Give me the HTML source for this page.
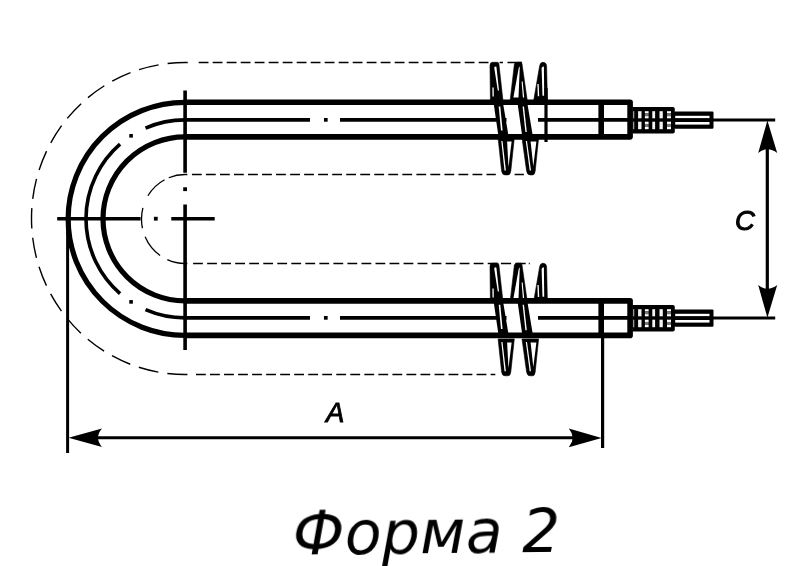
<!DOCTYPE html>
<html lang="ru"><head><meta charset="utf-8"><title>Форма 2</title>
<style>html,body{margin:0;padding:0;background:#fff}body{width:801px;height:566px;overflow:hidden}svg{display:block}</style></head>
<body>
<svg width="801" height="566" viewBox="0 0 801 566">
<rect width="801" height="566" fill="#fff"/>
<path d="M198.7 62.5H490" stroke="#000" stroke-width="1.5" fill="none" stroke-dasharray="9.8 4.2"/>
<path d="M499.6 62.5H503M507.5 62.5H522" stroke="#000" stroke-width="1.5" fill="none"/>
<path d="M196 374.5H495.3" stroke="#000" stroke-width="1.5" fill="none" stroke-dasharray="9.8 4.23"/>
<path d="M191.9 174.5H495.8" stroke="#000" stroke-width="1.5" fill="none" stroke-dasharray="9.8 4.23"/>
<path d="M514.6 174.5H523.9" stroke="#000" stroke-width="1.5" fill="none"/>
<path d="M193.1 263.5H498.3" stroke="#000" stroke-width="1.5" fill="none" stroke-dasharray="9.8 4.23"/>
<path d="M500.9 263.5H511.1M515.5 263.5H525.7M528.8 263.5H529.8" stroke="#000" stroke-width="1.5" fill="none"/>
<path d="M187.72 62.50L185.0 62.50A153.5 156.0 0 0 0 167.62 63.50M158.61 64.82A153.5 156.0 0 0 0 139.10 69.64M130.49 72.67A153.5 156.0 0 0 0 112.23 81.15M104.34 85.77A153.5 156.0 0 0 0 87.98 97.61M81.10 103.67A153.5 156.0 0 0 0 67.24 118.43M61.61 125.71A153.5 156.0 0 0 0 50.75 142.87M46.57 151.09A153.5 156.0 0 0 0 39.10 170.03M36.52 178.91A153.5 156.0 0 0 0 32.71 198.95M31.84 208.16A153.5 156.0 0 0 0 31.82 228.57M32.68 237.78A153.5 156.0 0 0 0 36.46 257.82M39.01 266.71A153.5 156.0 0 0 0 46.45 285.66M50.62 293.89A153.5 156.0 0 0 0 61.45 311.07M67.07 318.36A153.5 156.0 0 0 0 80.90 333.15M87.78 339.22A153.5 156.0 0 0 0 104.11 351.08M111.99 355.73A153.5 156.0 0 0 0 130.24 364.24M138.84 367.28A153.5 156.0 0 0 0 158.35 372.13M167.36 373.47A153.5 156.0 0 0 0 185.00 374.50L187.45 374.50" stroke="#000" stroke-width="1.4" fill="none"/>
<path d="M187.33 174.50L185.0 174.50A43.5 44.5 0 0 0 168.70 177.74M164.58 179.71A43.5 44.5 0 0 0 147.91 195.75M142.89 207.86A43.5 44.5 0 0 0 142.45 228.25M145.11 236.74A43.5 44.5 0 0 0 160.05 255.45M167.31 259.65A43.5 44.5 0 0 0 185.00 263.50L187.33 263.50" stroke="#000" stroke-width="1.3" fill="none"/>
<g transform="translate(0 0)">
<g fill="#000" stroke="#000" stroke-width="0.6" stroke-linejoin="round">
<!-- strand 2 above tube + peak2 + strand3 above tube -->
<path d="M510.2 100 L514.4 64 Q515 62.3 517 62.3 L520.5 62.3 Q521.8 62.3 522 64 L527.2 100 Z"/>
<!-- peak 3 -->
<path d="M533.8 100 L539.6 66 Q540.2 62.3 543 62.3 Q546.4 62.3 546.6 66 L547.4 100 Z"/>
<!-- peak 1 -->
<path d="M490.4 100 L490 65.5 Q490 62.3 492.5 62.3 L497.5 62.3 Q498.7 62.3 498.9 64 L502.9 100 Z"/>
<!-- valley 1 -->
<path d="M498.1 138 L501.6 171 Q502.2 174.9 505 174.9 L508 174.9 Q510.3 174.9 510.8 171 L514.3 138 Z"/>
<!-- valley 2 -->
<path d="M522 138 L526.6 171 Q527.3 174.9 530 174.9 L532.6 174.9 Q534.7 174.9 535.2 171 L538.6 138 Z"/>
</g>
<g fill="#fff">
<path d="M513.4 97.6 L518.7 68 L519.8 66.3 L518.5 97.6 Z"/>
<path d="M521.6 81.5 L522.7 81.5 L524.2 97.6 L522.9 97.6 Z"/>
<path d="M541.6 68 Q542.6 66 543.9 66.5 L544.2 95.8 L542.5 95.8 Z"/>
<path d="M537.4 84 L538.7 84 L539.2 96.2 L537.8 96.2 Z"/>
<path d="M494.2 67.5 Q495.3 65.8 496.4 66.8 L499 90.6 L497.8 90.6 Z"/>
<path d="M492.4 87.6 L493.7 87.6 L493.8 96.6 L492.5 96.6 Z"/>
<path d="M501.3 141 L502.5 141 L505.9 170.4 L504.5 170.4 Z"/>
<path d="M507.1 141.6 L511.6 141.6 L508.5 167 Z"/>
<path d="M525.8 141 L527.0 141 L531.0 170.4 L529.7 170.4 Z"/>
<path d="M530.6 141.6 L536.4 141.6 L533.3 166.2 Z"/>
</g>
</g>
<g transform="translate(0 200.9)">
<g fill="#000" stroke="#000" stroke-width="0.6" stroke-linejoin="round">
<!-- strand 2 above tube + peak2 + strand3 above tube -->
<path d="M510.2 100 L514.4 64 Q515 62.3 517 62.3 L520.5 62.3 Q521.8 62.3 522 64 L527.2 100 Z"/>
<!-- peak 3 -->
<path d="M533.8 100 L539.6 66 Q540.2 62.3 543 62.3 Q546.4 62.3 546.6 66 L547.4 100 Z"/>
<!-- peak 1 -->
<path d="M490.4 100 L490 65.5 Q490 62.3 492.5 62.3 L497.5 62.3 Q498.7 62.3 498.9 64 L502.9 100 Z"/>
<!-- valley 1 -->
<path d="M498.1 138 L501.6 171 Q502.2 174.9 505 174.9 L508 174.9 Q510.3 174.9 510.8 171 L514.3 138 Z"/>
<!-- valley 2 -->
<path d="M522 138 L526.6 171 Q527.3 174.9 530 174.9 L532.6 174.9 Q534.7 174.9 535.2 171 L538.6 138 Z"/>
</g>
<g fill="#fff">
<path d="M513.4 97.6 L518.7 68 L519.8 66.3 L518.5 97.6 Z"/>
<path d="M521.6 81.5 L522.7 81.5 L524.2 97.6 L522.9 97.6 Z"/>
<path d="M541.6 68 Q542.6 66 543.9 66.5 L544.2 95.8 L542.5 95.8 Z"/>
<path d="M537.4 84 L538.7 84 L539.2 96.2 L537.8 96.2 Z"/>
<path d="M494.2 67.5 Q495.3 65.8 496.4 66.8 L499 90.6 L497.8 90.6 Z"/>
<path d="M492.4 87.6 L493.7 87.6 L493.8 96.6 L492.5 96.6 Z"/>
<path d="M501.3 141 L502.5 141 L505.9 170.4 L504.5 170.4 Z"/>
<path d="M507.1 141.6 L511.6 141.6 L508.5 167 Z"/>
<path d="M525.8 141 L527.0 141 L531.0 170.4 L529.7 170.4 Z"/>
<path d="M530.6 141.6 L536.4 141.6 L533.3 166.2 Z"/>
</g>
</g>
<path d="M186.0 102.30H630.1V136.85H186.0M186.0 335.40H630.1V300.85H186.0" stroke="#000" stroke-width="5.6" stroke-linejoin="round" fill="none"/>
<path d="M186.5 102.30H185.0A116.85 116.55 0 0 0 185.0 335.40H186.5M186.5 136.85H185.0A82.0 82.0 0 0 0 185.0 300.85H186.5" stroke="#000" stroke-width="5.2" fill="none"/>
<path d="M601.2 102.30V136.85M601.2 300.85V335.40" stroke="#000" stroke-width="5.6" fill="none"/>
<path d="M310 119.85H185.0A99.0 99.0 0 0 0 145.52 128.06M120.05 144.13A99.0 99.0 0 0 0 120.05 293.57M145.52 309.64A99.0 99.0 0 0 0 185.00 317.85H310M340 119.85H506.5M340 317.85H506.5M538 119.85H630.1M538 317.85H630.1" stroke="#000" stroke-width="3.6" fill="none"/>
<rect x="129.28" y="134.02" width="3.6" height="3.6" fill="#000"/>
<rect x="129.28" y="300.08" width="3.6" height="3.6" fill="#000"/>
<rect x="323.95" y="118.00" width="3.7" height="3.7" fill="#000"/>
<rect x="323.95" y="316.00" width="3.7" height="3.7" fill="#000"/>
<g transform="translate(0 0)">
<g>
<path fill="#000" d="M493.6 103 L503 103 L508.5 136 L498.4 136 Z"/>
<path fill="#000" d="M517.5 103 L527.3 103 L532.8 136 L522.2 136 Z"/>
<path fill="#fff" d="M498.7 106.5 L500.3 106.5 L502.6 130.6 L501 130.6 Z"/>
<path fill="#fff" d="M522.6 106.5 L524 106.5 L526.8 132 L525.4 132 Z"/>
</g>
</g>
<g transform="translate(0 198.3)">
<g>
<path fill="#000" d="M493.6 103 L503 103 L508.5 136 L498.4 136 Z"/>
<path fill="#000" d="M517.5 103 L527.3 103 L532.8 136 L522.2 136 Z"/>
<path fill="#fff" d="M498.7 106.5 L500.3 106.5 L502.6 130.6 L501 130.6 Z"/>
<path fill="#fff" d="M522.6 106.5 L524 106.5 L526.8 132 L525.4 132 Z"/>
</g>
</g>
<path d="M546 88V142" stroke="#000" stroke-width="3.2"/>
<path d="M57.2 218.7H140.6M171.3 218.7H214.7" stroke="#000" stroke-width="3.4"/>
<rect x="153.90" y="216.80" width="3.8" height="3.8" fill="#000"/>
<path d="M185.1 90.6V172.7M185.1 204.5V350" stroke="#000" stroke-width="3.6"/>
<rect x="183.20" y="187.30" width="3.8" height="3.8" fill="#000"/>
<path d="M632.5 107.10H672.8Q674.8 107.10 674.8 109.10V131.40Q674.8 133.40 672.8 133.40H632.5Z" fill="#000"/>
<rect x="633.0" y="111.20" width="1.3" height="7.10" fill="#999"/>
<rect x="633.0" y="121.70" width="1.3" height="7.50" fill="#999"/>
<rect x="638.1" y="111.20" width="3.4" height="7.10" fill="#f4f4f4"/>
<rect x="638.1" y="121.70" width="3.4" height="7.50" fill="#f4f4f4"/>
<rect x="644.9" y="111.20" width="3.7" height="2.13" fill="#fff"/>
<rect x="644.9" y="113.33" width="3.7" height="2.84" fill="#777"/>
<rect x="644.9" y="116.17" width="3.7" height="2.13" fill="#fff"/>
<rect x="644.9" y="121.70" width="3.7" height="2.25" fill="#fff"/>
<rect x="644.9" y="123.95" width="3.7" height="3.00" fill="#777"/>
<rect x="644.9" y="126.95" width="3.7" height="2.25" fill="#fff"/>
<rect x="652.3" y="111.20" width="2.8" height="7.10" fill="#f4f4f4"/>
<rect x="652.3" y="121.70" width="2.8" height="7.50" fill="#f4f4f4"/>
<rect x="659.5" y="111.20" width="3.3" height="7.10" fill="#f4f4f4"/>
<rect x="659.5" y="121.70" width="3.3" height="7.50" fill="#f4f4f4"/>
<rect x="667.0" y="111.20" width="4.0" height="2.13" fill="#fff"/>
<rect x="667.0" y="113.33" width="4.0" height="2.84" fill="#777"/>
<rect x="667.0" y="116.17" width="4.0" height="2.13" fill="#fff"/>
<rect x="667.0" y="121.70" width="4.0" height="2.25" fill="#fff"/>
<rect x="667.0" y="123.95" width="4.0" height="3.00" fill="#777"/>
<rect x="667.0" y="126.95" width="4.0" height="2.25" fill="#fff"/>
<rect x="674" y="111.40" width="39.5" height="17.4" rx="1.2" fill="#000"/>
<rect x="675.2" y="115.80" width="34.3" height="2.3" fill="#fff"/>
<rect x="675.2" y="122.00" width="34.3" height="2.6" fill="#fff"/>
<path d="M712 120.00H775.2" stroke="#000" stroke-width="3"/>
<path d="M632.5 305.10H672.8Q674.8 305.10 674.8 307.10V329.40Q674.8 331.40 672.8 331.40H632.5Z" fill="#000"/>
<rect x="633.0" y="309.20" width="1.3" height="7.10" fill="#999"/>
<rect x="633.0" y="319.70" width="1.3" height="7.50" fill="#999"/>
<rect x="638.1" y="309.20" width="3.4" height="7.10" fill="#f4f4f4"/>
<rect x="638.1" y="319.70" width="3.4" height="7.50" fill="#f4f4f4"/>
<rect x="644.9" y="309.20" width="3.7" height="2.13" fill="#fff"/>
<rect x="644.9" y="311.33" width="3.7" height="2.84" fill="#777"/>
<rect x="644.9" y="314.17" width="3.7" height="2.13" fill="#fff"/>
<rect x="644.9" y="319.70" width="3.7" height="2.25" fill="#fff"/>
<rect x="644.9" y="321.95" width="3.7" height="3.00" fill="#777"/>
<rect x="644.9" y="324.95" width="3.7" height="2.25" fill="#fff"/>
<rect x="652.3" y="309.20" width="2.8" height="7.10" fill="#f4f4f4"/>
<rect x="652.3" y="319.70" width="2.8" height="7.50" fill="#f4f4f4"/>
<rect x="659.5" y="309.20" width="3.3" height="7.10" fill="#f4f4f4"/>
<rect x="659.5" y="319.70" width="3.3" height="7.50" fill="#f4f4f4"/>
<rect x="667.0" y="309.20" width="4.0" height="2.13" fill="#fff"/>
<rect x="667.0" y="311.33" width="4.0" height="2.84" fill="#777"/>
<rect x="667.0" y="314.17" width="4.0" height="2.13" fill="#fff"/>
<rect x="667.0" y="319.70" width="4.0" height="2.25" fill="#fff"/>
<rect x="667.0" y="321.95" width="4.0" height="3.00" fill="#777"/>
<rect x="667.0" y="324.95" width="4.0" height="2.25" fill="#fff"/>
<rect x="674" y="309.40" width="39.5" height="17.4" rx="1.2" fill="#000"/>
<rect x="675.2" y="313.80" width="34.3" height="2.3" fill="#fff"/>
<rect x="675.2" y="320.00" width="34.3" height="2.6" fill="#fff"/>
<path d="M712 318.00H775.2" stroke="#000" stroke-width="3"/>
<path d="M767.3 140V298" stroke="#000" stroke-width="3.2"/>
<path d="M767.4 120.5L777.2 153Q767.4 145.5 758.2 153Z" fill="#000"/>
<path d="M767.4 317.8L777.2 285Q767.4 292.5 758.2 285Z" fill="#000"/>
<path d="M67.6 218.7V453" stroke="#000" stroke-width="3"/>
<path d="M602.6 336V448" stroke="#000" stroke-width="3.2"/>
<path d="M90 437.8H580" stroke="#000" stroke-width="3"/>
<path d="M68.5 437.8L102 428.6Q94 437.8 102 447Z" fill="#000"/>
<path d="M601.6 437.9L568.8 428.6Q576.5 437.9 568.8 447.2Z" fill="#000"/>
<g opacity="0.999">
<text x="325.9" y="421.9" font-family="'Liberation Sans', Arial, sans-serif" font-style="italic" font-size="27.5" fill="#000" stroke="#000" stroke-width="0.9">A</text>
<text x="735" y="230" font-family="'Liberation Sans', Arial, sans-serif" font-style="italic" font-size="27.5" fill="#000" stroke="#000" stroke-width="1">C</text>
<text x="293" y="552.2" font-family="'DejaVu Sans', 'Liberation Sans', sans-serif" font-style="italic" font-size="60" letter-spacing="0.3" transform="rotate(-0.6 540 552)" fill="#000">Форма 2</text>
</g>
</svg>
</body></html>
